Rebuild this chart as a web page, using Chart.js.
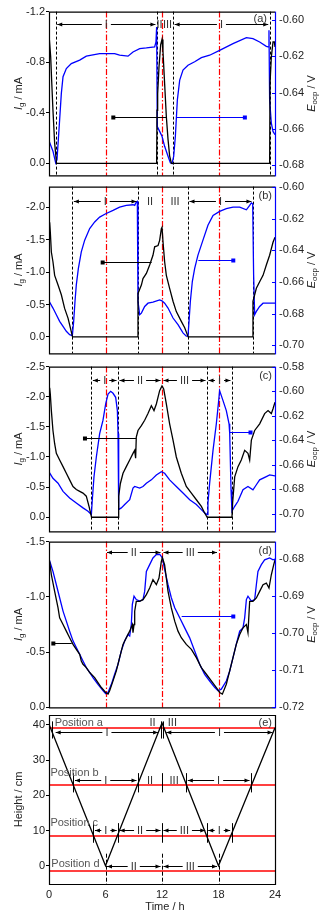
<!DOCTYPE html>
<html>
<head>
<meta charset="utf-8">
<script src="https://cdn.jsdelivr.net/npm/chart.js@4/dist/chart.umd.min.js"></script>
<style>
  body { margin: 0; background: #fff; }
  #wrap { position: relative; width: 331px; height: 915px; }
  #wrap canvas { position: absolute; left: 0; }
</style>
</head>
<body>
<div id="wrap">
  <canvas id="pa"></canvas>
  <canvas id="pb"></canvas>
  <canvas id="pc"></canvas>
  <canvas id="pd"></canvas>
  <canvas id="pe"></canvas>
</div>
<script>
// ---- shared ----
const TIME_TICKS = [0, 6, 12, 18, 24];
const RED_TIMES = [6, 12, 18];

// ---- (a) ----
const tIgA = [0, 0.04, 0.18, 0.28, 0.42, 0.60, 0.80, 11.43, 11.47, 11.54, 11.68, 11.86, 12.0, 12.1, 12.28, 12.46, 12.64, 12.81, 13.0, 23.43, 23.47, 23.61, 23.79, 23.93, 24.0];
const igA = [-0.95, -0.98, -0.84, -0.66, -0.42, -0.16, 0, 0, -0.42, -0.55, -0.76, -0.94, -0.98, -0.89, -0.63, -0.37, -0.19, -0.06, 0, 0, -0.63, -0.84, -0.96, -0.96, -0.92];
const tEA = [0, 0.42, 0.71, 0.85, 0.99, 1.13, 1.31, 1.49, 1.84, 2.37, 3.26, 3.96, 5.38, 6.97, 7.50, 8.39, 8.92, 9.63, 10.34, 11.22, 11.36, 11.43, 11.50, 11.75, 12.0, 12.28, 12.64, 12.89, 13.06, 13.24, 13.42, 13.63, 13.88, 14.23, 14.76, 15.47, 16.18, 17.06, 18.12, 19.54, 20.96, 21.66, 22.37, 23.08, 23.26, 23.36, 23.43, 23.61, 23.79, 24.0];
const eA = [-0.6665, -0.6723, -0.6787, -0.6769, -0.6660, -0.6550, -0.6405, -0.6313, -0.6268, -0.6241, -0.6222, -0.6200, -0.6186, -0.6186, -0.6195, -0.6200, -0.6177, -0.6159, -0.6155, -0.6149, -0.6122, -0.6040, -0.6587, -0.6614, -0.6641, -0.6696, -0.6751, -0.6787, -0.6791, -0.6751, -0.6641, -0.6441, -0.6332, -0.6277, -0.6250, -0.6231, -0.6208, -0.6195, -0.6168, -0.6131, -0.6098, -0.6104, -0.6122, -0.6146, -0.6149, -0.6058, -0.6441, -0.6569, -0.6614, -0.6632];
const igTicksA = [-1.2, -0.8, -0.4, 0.0];
const eTicksA = [-0.60, -0.62, -0.64, -0.66, -0.68];
const dashA = [0.72, 11.46, 13.18, 23.44];
const spansA = [[0.72, 11.46, 'I'], [11.46, 12, 'II'], [12, 13.18, 'III'], [13.18, 23.44, 'I']];
const ptrIgA = [12.5, 6.83, -0.37];
const ptrEA = [13.56, 20.8, -0.37];

// ---- (b) ----
const tIgB = [0, 0.07, 0.14, 0.25, 0.42, 0.60, 0.96, 1.31, 1.66, 2.02, 2.27, 2.50, 9.38, 9.45, 9.81, 9.98, 10.34, 10.69, 11.04, 11.22, 11.58, 11.75, 11.93, 12.0, 12.11, 12.28, 12.46, 12.81, 13.17, 13.52, 14.05, 14.41, 14.78, 21.59, 21.66, 22.02, 22.37, 22.73, 23.08, 23.43, 23.79, 24.0];
const igB = [-1.62, -1.77, -1.62, -1.31, -1.16, -0.95, -0.80, -0.65, -0.44, -0.29, -0.14, 0, 0, -0.67, -0.80, -0.90, -0.98, -1.11, -1.26, -1.39, -1.41, -1.49, -1.67, -1.69, -1.46, -1.16, -0.95, -0.75, -0.55, -0.39, -0.24, -0.14, 0, 0, -0.55, -0.75, -0.85, -0.95, -1.11, -1.26, -1.46, -1.54];
const tEB = [0, 0.42, 0.78, 1.13, 1.49, 1.84, 2.19, 2.48, 2.62, 2.76, 2.90, 3.12, 3.43, 3.79, 4.32, 4.85, 5.38, 6.02, 6.80, 7.50, 8.21, 8.92, 9.10, 9.27, 9.38, 9.45, 9.63, 9.81, 10.16, 10.51, 11.04, 11.75, 12.0, 12.28, 12.64, 13.17, 13.70, 14.23, 14.58, 14.76, 14.87, 15.01, 15.22, 15.47, 15.82, 16.35, 16.88, 17.42, 18.12, 18.83, 19.54, 20.25, 20.96, 21.31, 21.49, 21.63, 21.73, 21.84, 22.02, 22.37, 22.73, 23.26, 24.0];
const eB = [-0.6720, -0.6765, -0.6807, -0.6849, -0.6881, -0.6912, -0.6933, -0.6939, -0.6849, -0.6723, -0.6618, -0.6514, -0.6409, -0.6335, -0.6262, -0.6220, -0.6189, -0.6168, -0.6147, -0.6126, -0.6115, -0.6111, -0.6115, -0.6094, -0.6090, -0.6723, -0.6807, -0.6797, -0.6755, -0.6734, -0.6727, -0.6713, -0.6719, -0.6734, -0.6765, -0.6828, -0.6870, -0.6922, -0.6943, -0.6943, -0.6849, -0.6723, -0.6597, -0.6514, -0.6430, -0.6335, -0.6241, -0.6178, -0.6153, -0.6136, -0.6126, -0.6126, -0.6143, -0.6115, -0.6099, -0.6105, -0.6556, -0.6807, -0.6786, -0.6755, -0.6734, -0.6734, -0.6734];
const igTicksB = [-2.0, -1.5, -1.0, -0.5, 0.0];
const eTicksB = [-0.60, -0.62, -0.64, -0.66, -0.68, -0.70];
const dashB = [2.48, 9.45, 14.76, 21.66];
const spansB = [[2.48, 9.45, 'I'], [9.45, 12, 'II'], [12, 14.76, 'III'], [14.76, 21.66, 'I']];
const ptrIgB = [10.9, 5.7, -1.16];
const ptrEB = [15.86, 19.57, -1.19];

// ---- (c) ----
const tIgC = [0, 0.07, 0.14, 0.25, 0.42, 0.60, 0.78, 1.13, 1.49, 1.84, 2.19, 2.55, 2.90, 3.26, 3.61, 3.96, 4.25, 4.52, 7.33, 7.40, 7.58, 7.86, 8.21, 8.57, 8.92, 9.10, 9.20, 9.27, 9.45, 9.81, 10.16, 10.51, 10.87, 11.15, 11.40, 11.75, 12.0, 12.18, 12.46, 12.81, 13.17, 13.52, 14.05, 14.58, 15.12, 15.65, 16.18, 16.53, 16.80, 19.43, 19.50, 19.72, 20.07, 20.42, 20.78, 21.13, 21.31, 21.49, 21.84, 22.37, 22.90, 23.26, 23.61, 23.79, 24.0];
const igC = [-2.0, -2.15, -2.04, -1.77, -1.44, -1.22, -1.06, -0.95, -0.84, -0.73, -0.62, -0.51, -0.46, -0.43, -0.40, -0.35, -0.18, 0, 0, -0.35, -0.56, -0.73, -0.84, -0.95, -1.06, -1.11, -0.98, -1.33, -1.44, -1.52, -1.61, -1.72, -1.85, -1.77, -1.88, -2.10, -2.18, -2.13, -1.88, -1.55, -1.28, -1.00, -0.73, -0.51, -0.40, -0.29, -0.18, -0.07, 0, 0, -0.24, -0.67, -0.84, -0.95, -1.11, -1.06, -0.95, -1.28, -1.44, -1.55, -1.72, -1.77, -1.72, -1.80, -1.91];
const tEC = [0, 0.42, 0.96, 1.49, 2.19, 2.90, 3.61, 4.14, 4.50, 4.60, 4.78, 5.03, 5.38, 5.73, 6.02, 6.27, 6.55, 6.80, 7.08, 7.26, 7.33, 7.40, 7.68, 8.04, 8.57, 8.92, 9.10, 9.63, 9.98, 10.34, 10.87, 11.40, 11.93, 12.28, 12.81, 13.52, 14.23, 14.94, 15.65, 16.18, 16.53, 16.78, 16.88, 17.06, 17.42, 17.77, 18.02, 18.12, 18.30, 18.48, 18.83, 19.12, 19.19, 19.33, 19.43, 19.72, 20.07, 20.60, 21.13, 21.66, 22.02, 22.37, 23.08, 23.43, 24.0];
const eC = [-0.6660, -0.6712, -0.6752, -0.6819, -0.6873, -0.6914, -0.6954, -0.6981, -0.7008, -0.6887, -0.6698, -0.6536, -0.6347, -0.6240, -0.6105, -0.6024, -0.6002, -0.6018, -0.6051, -0.6159, -0.6347, -0.6968, -0.6954, -0.6927, -0.6887, -0.6792, -0.6779, -0.6792, -0.6779, -0.6752, -0.6725, -0.6685, -0.6658, -0.6671, -0.6725, -0.6779, -0.6833, -0.6887, -0.6927, -0.6968, -0.6995, -0.7008, -0.6914, -0.6752, -0.6482, -0.6267, -0.6078, -0.5997, -0.6037, -0.6078, -0.6159, -0.6267, -0.6347, -0.6806, -0.6981, -0.6941, -0.6900, -0.6806, -0.6779, -0.6806, -0.6765, -0.6725, -0.6698, -0.6685, -0.6693];
const igTicksC = [-2.5, -2.0, -1.5, -1.0, -0.5, 0.0];
const eTicksC = [-0.58, -0.60, -0.62, -0.64, -0.66, -0.68, -0.70];
const dashC = [4.50, 7.33, 16.78, 19.43];
const spansC = [[4.50, 7.33, 'I'], [7.33, 12, 'II'], [12, 16.78, 'III'], [16.78, 19.43, 'I']];
const ptrIgC = [9.24, 3.82, -1.32];
const ptrEC = [19.2, 21.4, -1.41];

// ---- (d) ----
const tIgD = [0, 0.07, 0.25, 0.60, 0.96, 1.13, 1.49, 1.84, 2.19, 2.55, 2.90, 3.26, 3.43, 3.61, 3.96, 4.32, 4.85, 5.20, 5.56, 6.02, 6.27, 6.44, 6.80, 7.15, 7.50, 7.86, 8.21, 8.57, 8.85, 8.92, 9.03, 9.10, 9.27, 9.63, 9.98, 10.34, 10.69, 11.04, 11.40, 11.68, 11.93, 12.04, 12.28, 12.64, 12.99, 13.35, 13.70, 14.05, 14.58, 15.12, 15.65, 16.18, 16.71, 17.24, 17.77, 18.12, 18.41, 18.83, 19.19, 19.54, 19.89, 20.25, 20.60, 20.96, 21.13, 21.31, 21.66, 22.02, 22.37, 22.73, 23.08, 23.36, 23.61, 23.86, 24.0];
const igD = [-1.30, -1.32, -1.20, -1.05, -0.90, -0.81, -0.75, -0.69, -0.63, -0.57, -0.525, -0.48, -0.42, -0.39, -0.36, -0.315, -0.27, -0.225, -0.18, -0.135, -0.12, -0.15, -0.24, -0.33, -0.45, -0.57, -0.63, -0.69, -0.75, -0.675, -0.75, -0.87, -0.96, -0.96, -0.975, -1.02, -1.08, -1.155, -1.11, -1.17, -1.32, -1.356, -1.29, -1.05, -0.90, -0.78, -0.69, -0.63, -0.57, -0.525, -0.45, -0.36, -0.30, -0.24, -0.18, -0.135, -0.12, -0.21, -0.33, -0.45, -0.57, -0.66, -0.72, -0.75, -0.675, -0.96, -0.96, -0.99, -1.05, -1.11, -1.125, -1.08, -1.20, -1.29, -1.335];
const tED = [0, 0.42, 0.78, 1.13, 1.49, 1.84, 2.19, 2.55, 2.90, 3.26, 3.61, 3.96, 4.32, 4.67, 5.20, 5.73, 6.02, 6.27, 6.62, 6.97, 7.33, 7.68, 8.04, 8.39, 8.57, 8.74, 8.85, 9.03, 9.27, 9.63, 9.98, 10.16, 10.34, 10.69, 11.04, 11.40, 11.75, 12.04, 12.28, 12.64, 12.99, 13.35, 13.88, 14.41, 14.94, 15.47, 16.0, 16.53, 17.06, 17.59, 17.95, 18.30, 18.83, 19.19, 19.54, 19.89, 20.25, 20.60, 20.78, 20.96, 21.13, 21.49, 21.84, 22.02, 22.19, 22.55, 22.90, 23.43, 23.79, 24.0];
const eD = [-0.6800, -0.6834, -0.6870, -0.6905, -0.6941, -0.6968, -0.6995, -0.7021, -0.7039, -0.7057, -0.7075, -0.7093, -0.7106, -0.7120, -0.7138, -0.7155, -0.7163, -0.7160, -0.7138, -0.7111, -0.7084, -0.7048, -0.7021, -0.7004, -0.7008, -0.6977, -0.6923, -0.6901, -0.6910, -0.6914, -0.6910, -0.6888, -0.6834, -0.6816, -0.6798, -0.6789, -0.6788, -0.6798, -0.6829, -0.6870, -0.6905, -0.6932, -0.6959, -0.6986, -0.7013, -0.7048, -0.7084, -0.7111, -0.7129, -0.7146, -0.7155, -0.7151, -0.7129, -0.7102, -0.7066, -0.7030, -0.6995, -0.6986, -0.6959, -0.6910, -0.6901, -0.6914, -0.6910, -0.6870, -0.6834, -0.6816, -0.6803, -0.6798, -0.6803, -0.6801];
const igTicksD = [-1.5, -1.0, -0.5, 0.0];
const eTicksD = [-0.68, -0.69, -0.70, -0.71, -0.72];
const spansD = [[6, 12, 'II'], [12, 18, 'III']];
const ptrIgD = [2.41, 0.46, -0.585];
const ptrED = [14.09, 19.57, -0.83];

// ---- (e) ----
const tHeight = [0, 6, 12, 18, 24];
const heightCm = [40.2, 0, 40.5, 0, 39.2];
const heightTicks = [0, 10, 20, 30, 40];
const posLevels = [39.0, 22.8, 8.5, -1.5];
const posNames = ['Position a', 'Position b', 'Position c', 'Position d'];
const posNameAt = [[0.6, 40.6], [0.15, 26.4], [0.15, 12.0], [0.25, 0.5]];
const rowLevelsE = [38.1, 24.3, 10.1, 0];
const spansE = [
  [[0.55, 11.75, 'I'], [12.3, 23.9, 'I']],
  [[2.6, 9.45, 'I'], [9.45, 12, 'II'], [12, 14.58, 'III'], [14.58, 21.45, 'I']],
  [[4.72, 7.35, 'I'], [7.35, 12, 'II'], [12, 16.75, 'III'], [16.75, 19.4, 'I']],
  [[6, 12, 'II'], [12, 18, 'III']]
];
const barsE = [[0.35, 11.9, 12.15, 23.95], [2.6, 9.45, 12, 14.58, 21.45], [4.72, 7.35, 12, 16.75, 19.4], [6, 12, 18]];
const extraLabelsE = [[11.0, 40.6, 'II'], [13.1, 40.6, 'III']];

const FONT = '"Liberation Sans", Arial, sans-serif';
const INK = '#222';
const BLUE = '#0000ff';
const RED = '#ff0000';
const PLOT_LEFT = 49, PLOT_RIGHT = 275, PAGE_H = 915;

const toPts = (ts, vs) => ts.map((t, i) => ({ x: t, y: vs[i] }));

function vLine(ctx, x, y1, y2, color, dash, lw) {
  ctx.save();
  ctx.strokeStyle = color;
  ctx.lineWidth = lw || 1;
  ctx.setLineDash(dash || []);
  ctx.beginPath();
  ctx.moveTo(Math.round(x) + 0.5, y1);
  ctx.lineTo(Math.round(x) + 0.5, y2);
  ctx.stroke();
  ctx.restore();
}

function arrowHead(ctx, x, y, dir) {
  ctx.beginPath();
  ctx.moveTo(x, y);
  ctx.lineTo(x - dir * 5, y - 2);
  ctx.lineTo(x - dir * 5, y + 2);
  ctx.closePath();
  ctx.fill();
}

// interval row: |<-- label -->|
function spanRow(ctx, xs, spans, y) {
  y = Math.round(y) + 0.5;
  ctx.save();
  ctx.setLineDash([]);
  ctx.font = '11px ' + FONT;
  ctx.textAlign = 'center';
  ctx.textBaseline = 'middle';
  spans.forEach(([t1, t2, label]) => {
    const x1 = xs.getPixelForValue(t1) + 1.5;
    const x2 = xs.getPixelForValue(t2) - 1.5;
    const mid = (x1 + x2) / 2;
    const w = ctx.measureText(label).width;
    ctx.fillStyle = '#333';
    ctx.fillText(label, mid, y);
    if (x2 - x1 < w + 16) return;
    ctx.strokeStyle = '#000';
    ctx.fillStyle = '#000';
    ctx.lineWidth = 1;
    ctx.beginPath();
    ctx.moveTo(x1, y); ctx.lineTo(mid - w / 2 - 3, y);
    ctx.moveTo(mid + w / 2 + 3, y); ctx.lineTo(x2, y);
    ctx.stroke();
    arrowHead(ctx, x1, y, -1);
    arrowHead(ctx, x2, y, 1);
  });
  ctx.restore();
}

// arrow telling which axis a curve belongs to
function axisPointer(ctx, xs, ys, [t1, t2, v], color) {
  const x1 = xs.getPixelForValue(t1), x2 = xs.getPixelForValue(t2);
  const y = Math.round(ys.getPixelForValue(v)) + 0.5;
  ctx.save();
  ctx.setLineDash([]);
  ctx.strokeStyle = color;
  ctx.fillStyle = color;
  ctx.lineWidth = 1;
  ctx.beginPath();
  ctx.moveTo(x1, y); ctx.lineTo(x2, y);
  ctx.stroke();
  ctx.fillRect(x2 - 2, y - 2, 4, 4);
  ctx.restore();
}

function richTitle(ctx, parts, cx, cy) {
  ctx.save();
  ctx.translate(cx, cy);
  ctx.rotate(-Math.PI / 2);
  const fonts = parts.map(p => (p.it ? 'italic ' : '') + (p.sub ? 8 : 11) + 'px ' + FONT);
  let total = 0;
  const widths = parts.map((p, i) => { ctx.font = fonts[i]; const w = ctx.measureText(p.s).width; total += w; return w; });
  let x = -total / 2;
  ctx.fillStyle = INK;
  ctx.textAlign = 'left';
  ctx.textBaseline = 'middle';
  parts.forEach((p, i) => { ctx.font = fonts[i]; ctx.fillText(p.s, x, p.sub ? 3 : 0); x += widths[i]; });
  ctx.restore();
}

function decor(p) {
  return {
    id: 'decor',
    beforeDatasetsDraw(chart) {
      const { ctx, chartArea: a, scales } = chart;
      (p.dash || []).forEach(t => vLine(ctx, scales.x.getPixelForValue(t), a.top, a.bottom, '#000', [3, 2], 1));
      (p.red || []).forEach(t => vLine(ctx, scales.x.getPixelForValue(t), a.top, a.bottom, RED, [6, 2, 1.5, 2], 1.2));
      if (p.levels) {
        ctx.save();
        ctx.setLineDash([]);
        ctx.strokeStyle = RED;
        ctx.lineWidth = 1.6;
        p.levels.forEach(v => {
          const y = Math.round(scales.yL.getPixelForValue(v));
          ctx.beginPath(); ctx.moveTo(a.left, y); ctx.lineTo(a.right, y); ctx.stroke();
        });
        ctx.restore();
      }
    },
    afterDatasetsDraw(chart) {
      const { ctx, chartArea: a, scales } = chart;
      const xs = scales.x, yL = scales.yL;
      if (p.spans) spanRow(ctx, xs, p.spans, yL.getPixelForValue(p.spanRow));
      if (p.ptrIg) axisPointer(ctx, xs, yL, p.ptrIg, '#000');
      if (p.ptrE) axisPointer(ctx, xs, yL, p.ptrE, BLUE);

      if (p.rows) {
        p.rows.forEach((spans, r) => {
          const rowY = yL.getPixelForValue(p.rowLevels[r]);
          const lvlY = yL.getPixelForValue(p.levels[r]);
          p.bars[r].forEach(t => {
            const x = xs.getPixelForValue(t);
            if (r === p.rows.length - 1) vLine(ctx, x, rowY - 12, a.bottom, '#000', [4, 2], 1);
            else vLine(ctx, x, Math.min(rowY, lvlY) - 7, Math.max(rowY, lvlY) + 7, '#000', [], 1);
          });
          spanRow(ctx, xs, spans, rowY);
        });
        ctx.save();
        ctx.font = '11px ' + FONT;
        ctx.textBaseline = 'middle';
        ctx.fillStyle = '#555';
        ctx.textAlign = 'left';
        p.names.forEach((s, i) => ctx.fillText(s, xs.getPixelForValue(p.nameAt[i][0]), yL.getPixelForValue(p.nameAt[i][1])));
        ctx.fillStyle = '#333';
        ctx.textAlign = 'center';
        p.extra.forEach(([t, v, s]) => ctx.fillText(s, xs.getPixelForValue(t), yL.getPixelForValue(v)));
        ctx.restore();
      }

      // frame
      ctx.save();
      ctx.setLineDash([]);
      ctx.lineWidth = 1.2;
      ctx.strokeStyle = '#000';
      ctx.beginPath();
      ctx.moveTo(a.left, a.top + 0.5); ctx.lineTo(a.right, a.top + 0.5);
      ctx.moveTo(a.left, a.bottom + 0.5); ctx.lineTo(a.right, a.bottom + 0.5);
      ctx.moveTo(a.left + 0.5, a.top); ctx.lineTo(a.left + 0.5, a.bottom + 1);
      ctx.stroke();
      ctx.strokeStyle = p.yR ? BLUE : '#000';
      ctx.beginPath();
      ctx.moveTo(a.right + 0.5, a.top); ctx.lineTo(a.right + 0.5, a.bottom + 1);
      ctx.stroke();
      if (p.yR) {
        ctx.lineWidth = 1;
        scales.yR.ticks.forEach(tk => {
          const y = Math.round(scales.yR.getPixelForValue(tk.value)) + 0.5;
          ctx.beginPath(); ctx.moveTo(a.right - 3, y); ctx.lineTo(a.right, y); ctx.stroke();
        });
      }
      ctx.restore();

      // panel letter
      ctx.save();
      ctx.font = '11px ' + FONT;
      ctx.fillStyle = '#333';
      ctx.textAlign = 'right';
      ctx.textBaseline = 'middle';
      ctx.fillText(p.letter, a.right - p.letterDx, a.top + p.letterDy);
      ctx.restore();

      // axis titles
      const midY = (a.top + a.bottom) / 2;
      richTitle(ctx, p.leftTitle, 19, midY);
      if (p.yR) richTitle(ctx, [{ s: 'E', it: true }, { s: 'ocp', sub: true }, { s: ' / V' }], 312, midY);
      if (p.xTitle) {
        ctx.save();
        ctx.font = '11px ' + FONT;
        ctx.fillStyle = INK;
        ctx.textAlign = 'center';
        ctx.textBaseline = 'middle';
        ctx.fillText(p.xTitle, 165, chart.height - 8);
        ctx.restore();
      }
    }
  };
}

const IG_TITLE = [{ s: 'I', it: true }, { s: 'g', sub: true }, { s: ' / mA' }];
const tickFont = { family: FONT, size: 11 };

function makePanel(p) {
  const cv = document.getElementById(p.id);
  const canvasTop = p.top - 10;
  const bottomPad = p.xTitle ? 0 : 10;
  const height = p.xTitle ? PAGE_H - canvasTop : p.bottom - p.top + 20;
  cv.width = 331;
  cv.height = height;
  cv.style.top = canvasTop + 'px';
  cv.style.width = '331px';
  cv.style.height = height + 'px';

  const datasets = p.series.map(s => ({
    data: s.pts, yAxisID: s.axis, borderColor: s.color, borderWidth: 1.3,
    pointRadius: 0, tension: 0, fill: false
  }));

  const scales = {
    x: {
      type: 'linear', min: 0, max: 24, display: !!p.xTitle,
      afterBuildTicks: s => { s.ticks = TIME_TICKS.map(v => ({ value: v })); },
      afterFit: s => { if (p.xTitle) s.height = PAGE_H - p.bottom; },
      ticks: { font: tickFont, color: INK, padding: 4, maxRotation: 0, callback: v => String(v) },
      grid: { drawOnChartArea: false, drawTicks: false },
      border: { display: false }
    },
    yL: {
      type: 'linear', position: 'left', reverse: p.reverseL, min: p.rangeL[0], max: p.rangeL[1],
      afterBuildTicks: s => { s.ticks = p.ticksL.map(v => ({ value: v })); },
      afterFit: s => { s.width = PLOT_LEFT; },
      ticks: { font: tickFont, color: INK, padding: 1, callback: p.fmtL },
      grid: { drawOnChartArea: false, tickLength: 3, color: '#000' },
      border: { display: false }
    }
  };
  if (p.yR) {
    scales.yR = {
      type: 'linear', position: 'right', min: p.yR.range[0], max: p.yR.range[1],
      afterBuildTicks: s => { s.ticks = p.yR.ticks.map(v => ({ value: v })); },
      afterFit: s => { s.width = 331 - PLOT_RIGHT; },
      ticks: { font: tickFont, color: INK, padding: 4, callback: v => v.toFixed(2) },
      grid: { drawOnChartArea: false, drawTicks: false },
      border: { display: false }
    };
  }

  return new Chart(cv, {
    type: 'line',
    data: { datasets },
    options: {
      responsive: false,
      animation: false,
      parsing: false,
      layout: { padding: { top: 10, bottom: bottomPad, left: 0, right: p.yR ? 0 : 331 - PLOT_RIGHT } },
      plugins: { legend: { display: false }, tooltip: { enabled: false } },
      scales
    },
    plugins: [decor(p)]
  });
}

const fmt1 = v => v.toFixed(1);

makePanel({
  id: 'pa', top: 11, bottom: 176, letter: '(a)', letterDx: 8, letterDy: 7,
  series: [{ pts: toPts(tIgA, igA), axis: 'yL', color: '#000' }, { pts: toPts(tEA, eA), axis: 'yR', color: BLUE }],
  reverseL: true, rangeL: [-1.2, 0.095], ticksL: igTicksA, fmtL: fmt1, leftTitle: IG_TITLE,
  yR: { range: [-0.6856, -0.5955], ticks: eTicksA },
  dash: dashA, red: RED_TIMES, spans: spansA, spanRow: -1.1, ptrIg: ptrIgA, ptrE: ptrEA
});

makePanel({
  id: 'pb', top: 186, bottom: 354, letter: '(b)', letterDx: 3, letterDy: 9,
  series: [{ pts: toPts(tIgB, igB), axis: 'yL', color: '#000' }, { pts: toPts(tEB, eB), axis: 'yR', color: BLUE }],
  reverseL: true, rangeL: [-2.32, 0.255], ticksL: igTicksB, fmtL: fmt1, leftTitle: IG_TITLE,
  yR: { range: [-0.7052, -0.5996], ticks: eTicksB },
  dash: dashB, red: RED_TIMES, spans: spansB, spanRow: -2.1, ptrIg: ptrIgB, ptrE: ptrEB
});

makePanel({
  id: 'pc', top: 366, bottom: 532, letter: '(c)', letterDx: 3, letterDy: 9,
  series: [{ pts: toPts(tIgC, igC), axis: 'yL', color: '#000' }, { pts: toPts(tEC, eC), axis: 'yR', color: BLUE }],
  reverseL: true, rangeL: [-2.5, 0.235], ticksL: igTicksC, fmtL: fmt1, leftTitle: IG_TITLE,
  yR: { range: [-0.7146, -0.58], ticks: eTicksC },
  dash: dashC, red: RED_TIMES, spans: spansC, spanRow: -2.27, ptrIg: ptrIgC, ptrE: ptrEC
});

makePanel({
  id: 'pd', top: 541, bottom: 708, letter: '(d)', letterDx: 3, letterDy: 9,
  series: [{ pts: toPts(tIgD, igD), axis: 'yL', color: '#000' }, { pts: toPts(tED, eD), axis: 'yR', color: BLUE }],
  reverseL: true, rangeL: [-1.5, 0.0], ticksL: igTicksD, fmtL: fmt1, leftTitle: IG_TITLE,
  yR: { range: [-0.72, -0.6754], ticks: eTicksD },
  red: RED_TIMES, spans: spansD, spanRow: -1.41, ptrIg: ptrIgD, ptrE: ptrED
});

makePanel({
  id: 'pe', top: 715, bottom: 884, letter: '(e)', letterDx: 3, letterDy: 8,
  series: [{ pts: toPts(tHeight, heightCm), axis: 'yL', color: '#000' }],
  reverseL: false, rangeL: [-5.2, 42.8], ticksL: heightTicks, fmtL: v => String(v),
  leftTitle: [{ s: 'Height / cm' }], xTitle: 'Time / h',
  levels: posLevels, rows: spansE, rowLevels: rowLevelsE, bars: barsE,
  names: posNames, nameAt: posNameAt, extra: extraLabelsE
});
</script>
</body>
</html>
